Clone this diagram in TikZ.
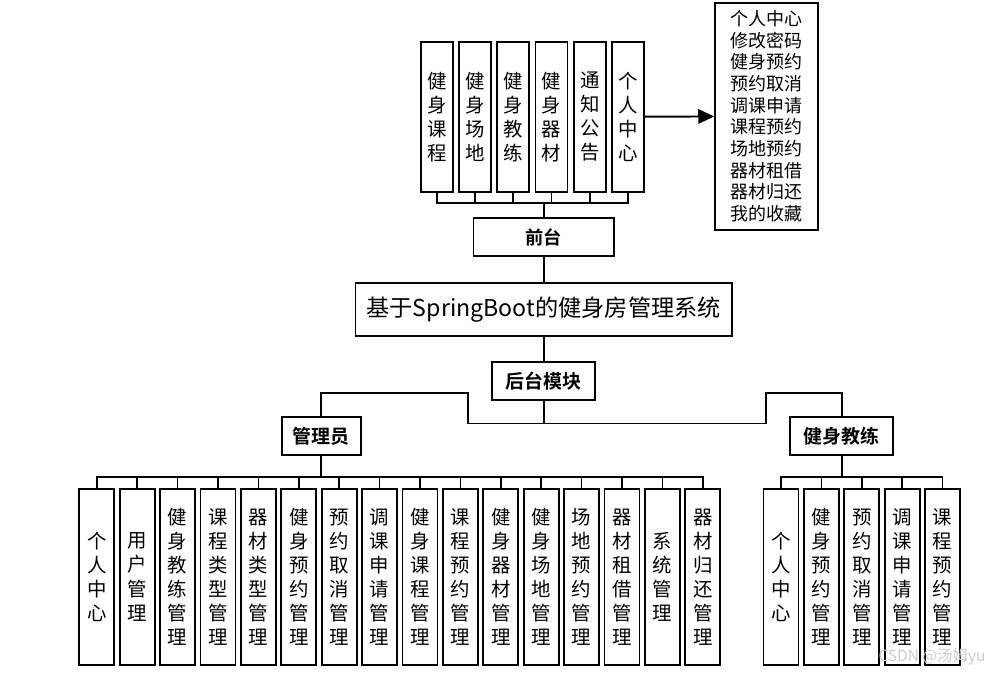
\documentclass[tikz,border=0pt]{standalone}
\usepackage{fontspec}
\setmainfont{Noto Sans CJK SC}[BoldFont={* Bold}]
\usepackage{tikz}
\usetikzlibrary{arrows.meta,positioning}

\begin{document}
\begin{tikzpicture}[
    x=0.025cm, y=-0.025cm,
    system/.style={rectangle, draw=black, line width=1.2pt, minimum width=9.4cm, minimum height=1.31cm, font={\fontsize{16.5}{19}\selectfont}},
    part/.style={rectangle, draw=black, line width=1.2pt, minimum height=0.96cm, font={\fontsize{13.5}{16}\selectfont\bfseries}},
    page/.style={rectangle, draw=black, line width=1.2pt, minimum width=0.8cm, minimum height=3.75cm, align=center, inner sep=0pt, font={\fontsize{13.8}{17.1}\selectfont}},
    leaf/.style={rectangle, draw=black, line width=1.2pt, minimum width=0.875cm, minimum height=4.415cm, align=center, inner sep=0pt, font={\fontsize{13.8}{17.1}\selectfont}},
    link/.style={line width=1.2pt},
    menu/.style={-{Triangle[length=4mm, width=3.6mm]}, line width=1.4pt},
]
\useasboundingbox (0,0) rectangle (1000,676);
% SISTEMA
\node[system] (sys) at (543.7, 309.5) {基于SpringBoot的健身房管理系统};
% FRONT
\node[part, minimum width=3.51cm, font={\fontsize{13}{16}\selectfont\bfseries}] (front) at (543.7, 237) {前台};
\node[page] (f1) at (436.7, 116.7) {健\\身\\课\\程};
\node[page] (f2) at (474.9, 116.7) {健\\身\\场\\地};
\node[page] (f3) at (513.2, 116.7) {健\\身\\教\\练};
\node[page] (f4) at (551.5, 116.7) {健\\身\\器\\材};
\node[page] (f5) at (589.7, 116.7) {通\\知\\公\\告};
\node[page] (f6) at (628.0, 116.7) {个\\人\\中\\心};
\node[rectangle, draw=black, line width=1.2pt, minimum width=2.58cm, minimum height=5.68cm, align=left, font={\fontsize{12.8}{15.4}\selectfont}] (mine) at (766.7, 116.3)
    {个人中心\\修改密码\\健身预约\\预约取消\\调课申请\\课程预约\\场地预约\\器材租借\\器材归还\\我的收藏};
\coordinate (fbus) at (543.7, 202.7);
\draw[link] (sys) -- (front) -- (fbus);
\foreach \i in {1,...,6} \draw[link] (fbus) -| (f\i.south);
\draw[menu] (f6) -- (mine);
% BACK
\node[part, minimum width=2.575cm] (back) at (543.7, 381) {后台模块};
\node[part, minimum width=1.98cm] (admin) at (321.3, 436) {管理员};
\node[part, minimum width=2.58cm] (coach) at (841.7, 436) {健身教练};
\coordinate (split) at (543.7, 423.5);
\draw[link] (sys) -- (back) -- (split);
\draw[link] (split) -- (468.3, 423.5) -- (468.3, 392.7) -| (admin.north);
\draw[link] (split) -- (766, 423.5) -- (766, 392.7) -| (coach.north);
% ADMIN
\node[leaf] (a1) at (96.8, 577) {个\\人\\中\\心};
\node[leaf] (a2) at (137.2, 577) {用\\户\\管\\理};
\node[leaf] (a3) at (177.6, 577) {健\\身\\教\\练\\管\\理};
\node[leaf] (a4) at (218.0, 577) {课\\程\\类\\型\\管\\理};
\node[leaf] (a5) at (258.4, 577) {器\\材\\类\\型\\管\\理};
\node[leaf] (a6) at (298.8, 577) {健\\身\\预\\约\\管\\理};
\node[leaf] (a7) at (339.2, 577) {预\\约\\取\\消\\管\\理};
\node[leaf] (a8) at (379.6, 577) {调\\课\\申\\请\\管\\理};
\node[leaf] (a9) at (420.0, 577) {健\\身\\课\\程\\管\\理};
\node[leaf] (a10) at (460.4, 577) {课\\程\\预\\约\\管\\理};
\node[leaf] (a11) at (500.8, 577) {健\\身\\器\\材\\管\\理};
\node[leaf] (a12) at (541.2, 577) {健\\身\\场\\地\\管\\理};
\node[leaf] (a13) at (581.6, 577) {场\\地\\预\\约\\管\\理};
\node[leaf] (a14) at (622.0, 577) {器\\材\\租\\借\\管\\理};
\node[leaf] (a15) at (662.4, 577) {系\\统\\管\\理};
\node[leaf] (a16) at (702.8, 577) {器\\材\\归\\还\\管\\理};
\coordinate (abus) at (321.3, 476.7);
\draw[link] (admin) -- (abus);
\foreach \i in {1,...,16} \draw[link] (abus) -| (a\i.north);
% COACH
\node[leaf] (c1) at (781.0, 577) {个\\人\\中\\心};
\node[leaf] (c2) at (821.4, 577) {健\\身\\预\\约\\管\\理};
\node[leaf] (c3) at (861.8, 577) {预\\约\\取\\消\\管\\理};
\node[leaf] (c4) at (902.2, 577) {调\\课\\申\\请\\管\\理};
\node[leaf] (c5) at (942.6, 577) {课\\程\\预\\约\\管\\理};
\coordinate (cbus) at (841.7, 476.7);
\draw[link] (coach) -- (cbus);
\foreach \i in {1,...,5} \draw[link] (cbus) -| (c\i.north);
\node[text=gray!40, font={\fontsize{11}{13}\selectfont}] (mark) at (932, 657) {CSDN @汤姆yu};
\end{tikzpicture}
\end{document}
